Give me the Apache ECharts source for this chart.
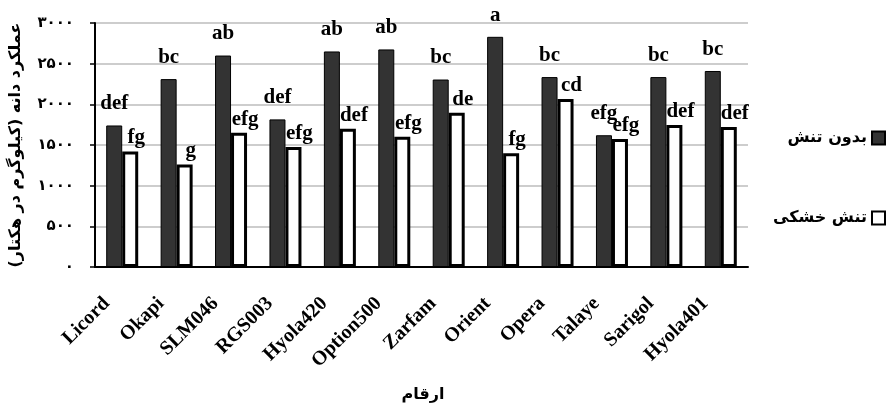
<!DOCTYPE html>
<html>
<head>
<meta charset="utf-8">
<script src="https://cdn.jsdelivr.net/npm/echarts@6/dist/echarts.min.js"></script>
<style>
  html, body { margin: 0; padding: 0; background: #fff; }
  #chart { width: 894px; height: 408px; }
</style>
</head>
<body>
<div id="chart"></div>
<script>
var categories = ['Licord', 'Okapi', 'SLM046', 'RGS003', 'Hyola420', 'Option500', 'Zarfam', 'Orient', 'Opera', 'Talaye', 'Sarigol', 'Hyola401'];
// بدون تنش
var noStress = [1740, 2310, 2600, 1815, 2650, 2675, 2305, 2830, 2335, 1620, 2335, 2410];
// تنش خشکی
var drought = [1420, 1260, 1650, 1475, 1700, 1600, 1895, 1400, 2065, 1575, 1745, 1720];
// mean comparison letters
var noStressLetters = ['def', 'bc', 'ab', 'def', 'ab', 'ab', 'bc', 'a', 'bc', 'efg', 'bc', 'bc'];
var droughtLetters = ['fg', 'g', 'efg', 'efg', 'def', 'efg', 'de', 'fg', 'cd', 'efg', 'def', 'def'];

var serif = "'Liberation Serif', 'DejaVu Serif', serif";
var persian = "'DejaVu Sans', 'Noto Sans', sans-serif";

function toPersianDigits(v) {
    return String(v).replace(/\d/g, function (d) { return '۰۱۲۳۴۵۶۷۸۹'[d]; });
}

var mychart = echarts.init(document.getElementById('chart'));

mychart.setOption({
    animation: false,
    backgroundColor: '#fff',
    title: {
        text: 'ارقام',
        left: 418,
        top: 382,
        textAlign: 'center',
        textStyle: { fontFamily: persian, fontWeight: 'bold', fontSize: 16, color: '#000' }
    },
    legend: {
        orient: 'vertical',
        right: 3,
        top: 125,
        align: 'right',
        itemGap: 64,
        itemWidth: 13,
        itemHeight: 13,
        icon: 'rect',
        textStyle: { fontFamily: persian, fontWeight: 'bold', fontSize: 16, color: '#000' },
        data: ['بدون تنش', 'تنش خشکی']
    },
    grid: { left: 93, right: 146, top: 23, bottom: 141 },
    xAxis: {
        type: 'category',
        data: categories,
        axisLine: { lineStyle: { color: '#000', width: 2 } },
        axisTick: { length: 6, lineStyle: { color: '#000', width: 1.5 } },
        axisLabel: {
            rotate: 45,
            margin: 18,
            padding: [0, 22, 0, 0],
            interval: 0,
            color: '#000',
            fontFamily: serif,
            fontWeight: 'bold',
            fontSize: 20
        }
    },
    yAxis: {
        type: 'value',
        min: 0,
        max: 3000,
        interval: 500,
        name: 'عملکرد دانه (کیلوگرم در هکتار)',
        nameLocation: 'middle',
        nameRotate: 90,
        nameGap: 71,
        nameTextStyle: { fontFamily: persian, fontWeight: 'bold', fontSize: 16, color: '#000' },
        axisLine: { show: true, lineStyle: { color: '#000', width: 2 } },
        axisTick: { show: true, length: 5, lineStyle: { color: '#000', width: 1.5 } },
        axisLabel: {
            margin: 21,
            color: '#000',
            fontFamily: persian,
            fontWeight: 'bold',
            fontSize: 15,
            formatter: toPersianDigits
        },
        splitLine: { lineStyle: { color: '#bdbdbd', width: 1.5 } }
    },
    series: [
        {
            name: 'بدون تنش',
            type: 'bar',
            data: noStress,
            barWidth: 16,
            barGap: '0%',
            itemStyle: { color: '#333333', borderColor: '#000', borderWidth: 1 },
            label: {
                show: true,
                position: 'top',
                distance: 11,
                color: '#000',
                fontFamily: serif,
                fontWeight: 'bold',
                fontSize: 21,
                formatter: function (p) { return noStressLetters[p.dataIndex]; }
            }
        },
        {
            name: 'تنش خشکی',
            type: 'bar',
            data: drought,
            barWidth: 16,
            itemStyle: { color: '#fff', borderColor: '#000', borderWidth: 3 },
            label: {
                show: true,
                position: 'top',
                distance: 3,
                offset: [6, 0],
                color: '#000',
                fontFamily: serif,
                fontWeight: 'bold',
                fontSize: 21,
                formatter: function (p) { return droughtLetters[p.dataIndex]; }
            }
        }
    ]
});
</script>
</body>
</html>
